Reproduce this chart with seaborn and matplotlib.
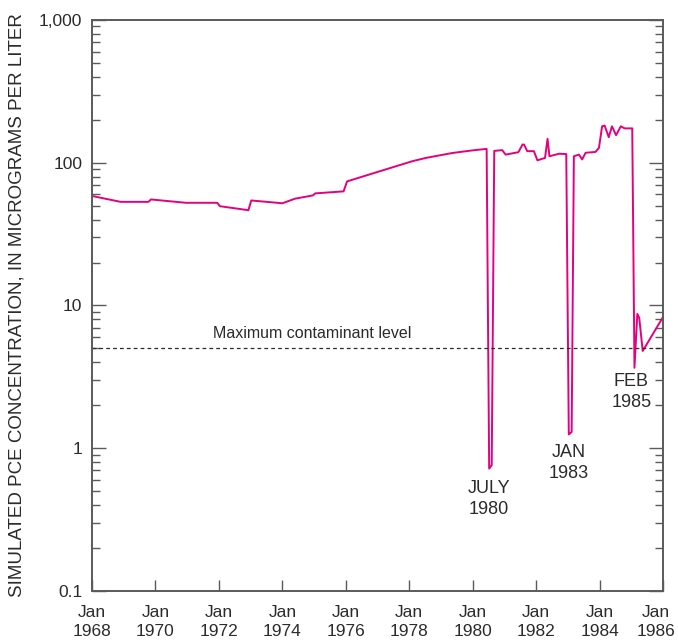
import matplotlib
matplotlib.use("Agg")
import matplotlib.pyplot as plt
import matplotlib.ticker as mticker
import matplotlib.transforms as mtransforms
import pandas as pd
import seaborn as sns

# simulated PCE concentration (decimal year, ug/L)
years = [1968.0, 1968.9, 1969.78, 1969.86, 1970.96, 1971.95, 1972.03, 1972.93,
         1973.02, 1974.0, 1974.4, 1974.96, 1975.04, 1975.93, 1976.04, 1977.06,
         1978.1, 1978.52, 1979.36, 1979.99, 1980.44, 1980.52, 1980.6, 1980.68,
         1980.93, 1981.04, 1981.44, 1981.57, 1981.62, 1981.72, 1981.93, 1982.04,
         1982.28, 1982.36, 1982.42, 1982.72, 1982.95, 1983.03, 1983.12, 1983.19,
         1983.35, 1983.45, 1983.56, 1983.87, 1983.98, 1984.08, 1984.16, 1984.29,
         1984.39, 1984.52, 1984.67, 1984.79, 1985.03, 1985.1, 1985.19, 1985.25,
         1985.36, 1986.0]
pce = [58.5, 53.2, 53.2, 55.3, 52.4, 52.4, 49.6, 46.5,
       54.4, 52.0, 56.0, 59.0, 61.0, 63.0, 74.0, 87.0,
       102.5, 108.0, 117.0, 122.0, 125.0, 0.72, 0.76, 121.0,
       122.5, 114.0, 118.5, 134.0, 134.0, 120.5, 120.5, 104.0,
       108.0, 147.0, 111.0, 115.6, 115.0, 1.25, 1.3, 111.0,
       114.0, 105.5, 117.4, 119.0, 127.0, 180.0, 182.0, 151.0,
       180.0, 156.0, 180.0, 174.0, 174.0, 3.66, 8.74, 8.2,
       4.8, 8.3]
mcl = 5
tick_years = list(range(1968, 1987, 2))
tick_labels = [f"Jan\n{y}" for y in tick_years]
events = [("JULY\n1980", 1980.52, 0.6), ("JAN\n1983", 1983.03, 1.07), ("FEB\n1985", 1985.0, 3.35)]

df = pd.DataFrame({"year": years, "pce": pce})

sns.set_style("white")
plt.rcParams["font.family"] = ["Liberation Sans", "DejaVu Sans"]
ink = "#2b2b2b"
spine = "#5a5a5a"
pink = "#E5007D"

fig = plt.figure(figsize=(6.78, 6.44), dpi=100)
ax = fig.add_axes([0.1357, 0.0823, 0.9779 - 0.1357, 0.969 - 0.0823])

sns.lineplot(data=df, x="year", y="pce", ax=ax, color=pink, linewidth=1.4,
             estimator=None, sort=False)
ax.axhline(mcl, color=ink, linestyle=(0, (3, 2.5)), linewidth=0.9)
ax.text(1971.8, 5.95, "Maximum contaminant level", fontsize=11.5, color=ink,
        ha="left", va="baseline")

for label, x, y in events:
    ax.text(x, y, label, fontsize=13, color=ink, ha="center", va="top",
            linespacing=1.3)

ax.set_yscale("log")
ax.set_ylim(0.1, 1000)
ax.set_xlim(1968, 1986)
ax.set_xticks(tick_years)
ax.set_xticklabels(tick_labels)
ax.yaxis.set_major_locator(mticker.FixedLocator([0.1, 1, 10, 100, 1000]))
ax.set_yticklabels(["0.1", "1", "10", "100", "1,000"])
ax.yaxis.set_minor_locator(mticker.LogLocator(base=10, subs=range(2, 10)))
ax.yaxis.set_minor_formatter(mticker.NullFormatter())

ax.tick_params(axis="y", which="major", direction="in", length=10, width=1.0,
               color=spine, left=True, right=True, labelsize=12.5, labelcolor=ink, pad=7)
ax.tick_params(axis="y", which="minor", direction="in", length=6, width=1.0,
               color=spine, left=True, right=True)
ax.tick_params(axis="x", which="major", direction="in", length=8, width=1.0,
               color=spine, bottom=True, top=False, labelsize=12.5, labelcolor=ink, pad=10)
xlabels = ax.get_xticklabels()
for t in xlabels:
    t.set_linespacing(1.35)
# nudge the last label so it stays inside the figure
xlabels[-1].set_transform(xlabels[-1].get_transform() +
                          mtransforms.ScaledTranslation(-5 / 72, 0, fig.dpi_scale_trans))

for s in ax.spines.values():
    s.set_visible(True)
    s.set_color(spine)
    s.set_linewidth(1.4)

ax.set_xlabel("")
ax.set_ylabel("SIMULATED PCE CONCENTRATION, IN MICROGRAMS PER LITER",
              fontsize=13.5, color=ink, labelpad=10)

fig.savefig("out.png", dpi=100)
